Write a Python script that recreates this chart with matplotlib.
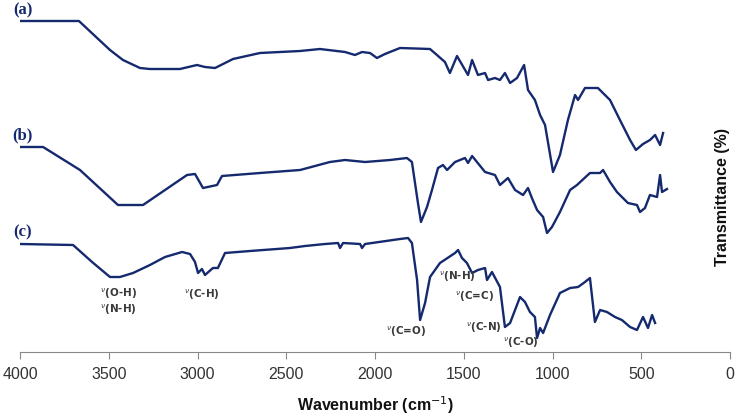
import matplotlib.pyplot as plt

# wavenumbers (cm-1) and offset transmittance (arbitrary units)
wn_a = [4000, 3668, 3493, 3420, 3324, 3268, 3099, 3003, 2958, 2901, 2800, 2648, 2422,
        2310, 2169, 2113, 2073, 2028, 1989, 1944, 1859, 1690, 1651, 1606, 1578, 1538,
        1476, 1453, 1420, 1380, 1363, 1324, 1296, 1268, 1239, 1200, 1160, 1138, 1099,
        1070, 1042, 997, 958, 913, 873, 856, 817, 744, 676, 620, 563, 530, 490, 451,
        422, 394, 377]
t_a = [331, 331, 302, 292, 284, 283, 283, 287, 285, 284, 293, 299, 301,
       303, 300, 297, 300, 299, 294, 298, 304, 303, 297, 290, 279, 296,
       277, 292, 277, 279, 272, 274, 272, 279, 269, 274, 287, 262, 252,
       237, 227, 180, 197, 232, 257, 252, 264, 264, 252, 232, 212, 202, 208, 212,
       217, 207, 219]

wn_b = [4000, 3870, 3662, 3448, 3307, 3183, 3059, 3014, 2969, 2890, 2862, 2648, 2422,
        2254, 2169, 2056, 1915, 1820, 1792, 1758, 1741, 1707, 1679, 1645, 1617, 1594,
        1549, 1493, 1476, 1453, 1380, 1324, 1296, 1251, 1211, 1166, 1138, 1116, 1087,
        1053, 1031, 1003, 958, 901, 862, 789, 732, 715, 676, 637, 575, 524, 507, 479,
        451, 411, 394, 383, 355]
t_b = [205, 205, 182, 147, 147, 162, 177, 178, 164, 167, 176, 179, 182,
       190, 192, 190, 192, 194, 190, 149, 130, 145, 162, 184, 187, 182,
       190, 194, 189, 196, 180, 177, 167, 174, 162, 157, 164, 154, 142,
       135, 119, 125, 140, 162, 167, 179, 179, 182, 170, 160, 149, 147, 140, 144,
       157, 155, 177, 160, 163]

wn_c = [4000, 3701, 3594, 3493, 3437, 3363, 3268, 3183, 3087, 3042, 3014, 2997, 2975,
        2958, 2913, 2885, 2845, 2704, 2479, 2394, 2282, 2208, 2197, 2180, 2084, 2073,
        2056, 1859, 1814, 1792, 1763, 1746, 1718, 1690, 1634, 1549, 1532, 1510, 1482,
        1453, 1420, 1380, 1369, 1341, 1296, 1268, 1239, 1211, 1183, 1155, 1127, 1099,
        1087, 1070, 1053, 1014, 958, 901, 856, 817, 789, 761, 732, 693, 648, 609, 563,
        524, 490, 462, 439, 422]
t_c = [108, 107, 90, 75, 75, 79, 87, 95, 100, 98, 90, 79, 83,
       77, 84, 84, 99, 101, 104, 106, 108, 109, 104, 109, 108, 104,
       108, 113, 114, 109, 72, 32, 49, 75, 89, 99, 102, 94, 89,
       79, 82, 84, 72, 80, 65, 25, 29, 42, 55, 50, 40, 35,
       14, 24, 19, 37, 59, 64, 65, 70, 74, 30, 42, 40, 35, 32, 25,
       22, 35, 24, 37, 29]

curve_labels = ["(a)", "(b)", "(c)"]
band_labels = ["(O-H)\n(N-H)", "(C-H)", "(C=O)", "(N-H)", "(C=C)", "(C-N)", "(C-O)"]
band_wn = [3448, 2975, 1825, 1538, 1437, 1386, 1177]
band_t = [50, 57, 20, 75, 55, 24, 9]

navy = "#15296e"
sans = "Liberation Sans"

fig = plt.figure(figsize=(7.38, 4.2), dpi=100)
ax = fig.add_axes([20 / 738, 68 / 420, 710 / 738, 352 / 420])

for wn, t in [(wn_a, t_a), (wn_b, t_b), (wn_c, t_c)]:
    ax.plot(wn, t, color=navy, lw=1.7, solid_joinstyle="round")

ax.set_xlim(4000, 0)
ax.set_ylim(0, 352)
ax.set_xticks(range(0, 4001, 500))
ax.tick_params(axis="x", direction="out", length=5, color="#888888",
               labelsize=11.5, labelcolor="#333333", pad=6)
ax.set_yticks([])
for side in ["left", "right", "top"]:
    ax.spines[side].set_visible(False)
ax.spines["bottom"].set_color("#888888")
for lbl in ax.get_xticklabels():
    lbl.set_family(sans)

for lbl, y in zip(curve_labels, [342, 217, 120]):
    ax.text(3985, y, lbl, ha="center", va="center", fontsize=12, fontweight="bold",
            family="Liberation Serif", color=navy)

for txt, x, y in zip(band_labels, band_wn, band_t):
    lines = txt.split("\n")
    txt2 = "\n".join(r"$^{\nu}$" + ln for ln in lines)
    ax.text(x, y, txt2, ha="center", va="center", fontsize=7.5, fontweight="bold",
            color="#3a3a3a", linespacing=1.2)

fig.text(375 / 738, 1 - 405 / 420, "Wavenumber (cm$^{-1}$)", ha="center", va="center",
         fontsize=11.5, fontweight="bold", family=sans, color="#111111")
fig.text(722 / 738, 1 - 197 / 420, "Transmittance (%)", ha="center", va="center",
         rotation=90, fontsize=11.5, fontweight="bold", family=sans, color="#111111")

fig.savefig("out.png", dpi=100)
